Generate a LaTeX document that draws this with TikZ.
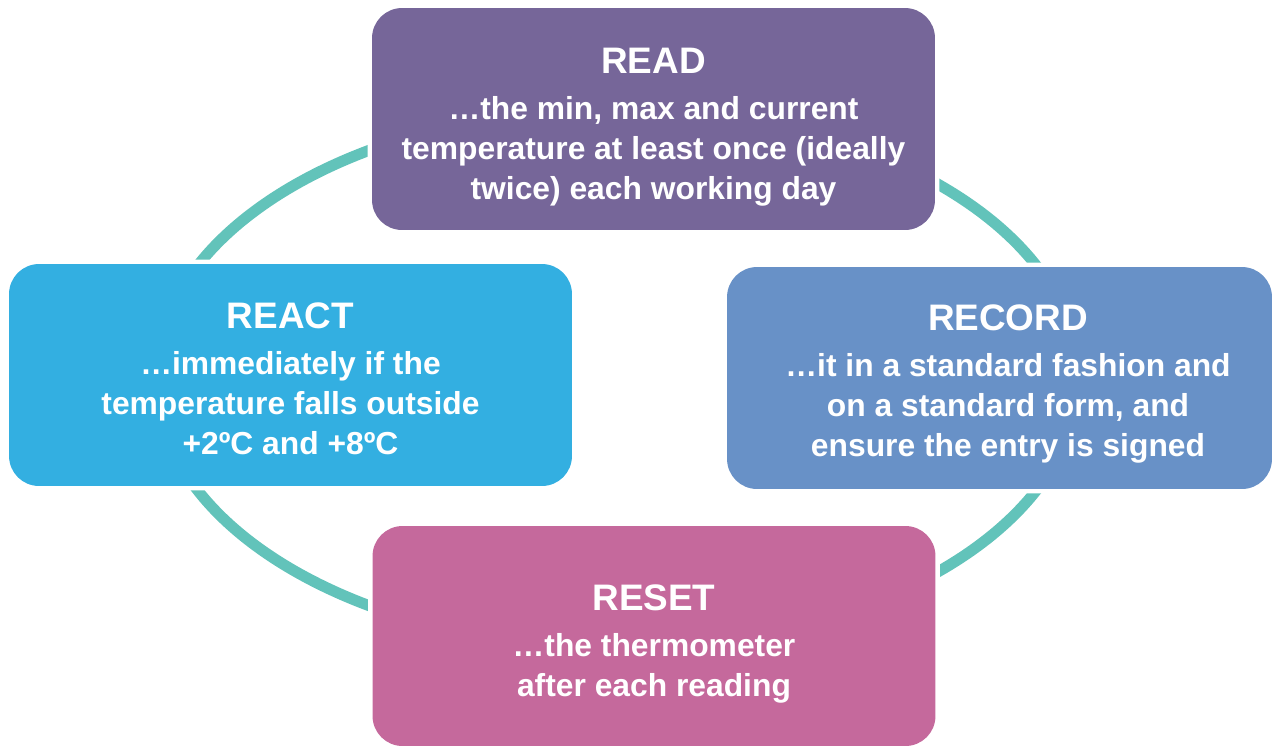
\documentclass[tikz,border=0pt]{standalone}
\usepackage{fontspec}
\setmainfont{Liberation Sans}
\usetikzlibrary{positioning}
\definecolor{readcol}{HTML}{766699}
\definecolor{reactcol}{HTML}{33AFE1}
\definecolor{recordcol}{HTML}{6891C7}
\definecolor{resetcol}{HTML}{C5699C}
\definecolor{ringcol}{HTML}{62C3BA}
\newcommand{\steptitle}[1]{{\fontsize{21pt}{22.7pt}\selectfont #1}\\[3.4pt]}

\begin{document}
\begin{tikzpicture}[x=0.02cm,y=-0.02cm]
    \tikzstyle{stepbox}=[rectangle, rounded corners=0.6cm, minimum width=11.26cm, minimum height=4.44cm, preaction={draw=white, line width=0.18cm}]
    \tikzstyle{steptext}=[text=white, align=center, font=\bfseries\fontsize{18.1pt}{22.7pt}\selectfont]
    \tikzstyle{ring}=[draw=ringcol, line width=0.22cm]
    \useasboundingbox (0,0) rectangle (1273,745);
    % the cycle behind the boxes
    \draw[ring] (617,378) ellipse [x radius=461, y radius=270];
    % boxes
    \node[stepbox, fill=readcol] (read) at (653.5,119) {};
    \node[stepbox, fill=reactcol] (react) at (290.5,375) {};
    \node[stepbox, fill=recordcol, minimum width=10.9cm] (record) at (999.5,378) {};
    \node[stepbox, fill=resetcol, minimum height=4.4cm] (reset) at (654,636) {};
    % texts
    \node[steptext] (readtext) at ([shift={(0,8)}]read.center) {\steptitle{READ}%
      \dots the min, max and current\\
      temperature at least once (ideally\\
      twice) each working day};
    \node[steptext] (reacttext) at ([shift={(0,4)}]react.center) {\steptitle{REACT}%
      \dots immediately if the\\
      temperature falls outside\\
      +2ºC and +8ºC};
    \node[steptext] (recordtext) at ([shift={(8.5,6)}]record.center) {\steptitle{RECORD}%
      \dots it in a standard fashion and\\
      on a standard form, and\\
      ensure the entry is signed};
    \node[steptext] (resettext) at ([shift={(0,8)}]reset.center) {\steptitle{RESET}%
      \dots the thermometer\\
      after each reading};
\end{tikzpicture}
\end{document}
